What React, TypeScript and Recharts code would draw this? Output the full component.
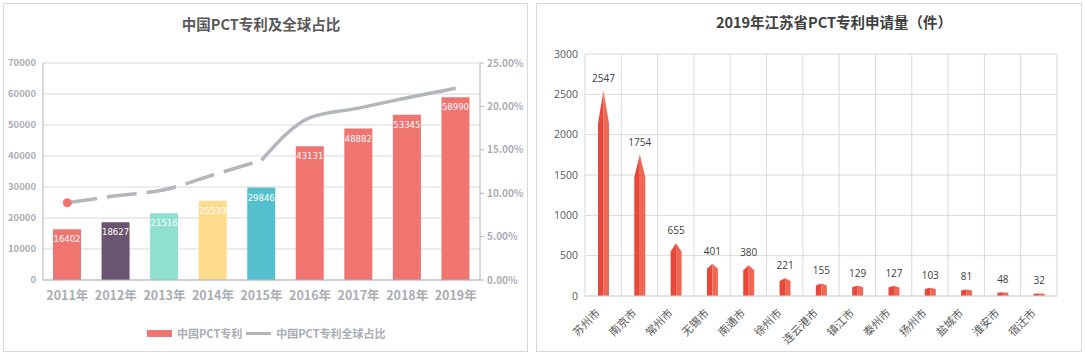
import React from 'react';
import {
  ComposedChart, BarChart, Bar, Line, XAxis, YAxis, CartesianGrid, Cell, LabelList,
} from 'recharts';

// ---- Left chart data ----
const years = ['2011年', '2012年', '2013年', '2014年', '2015年', '2016年', '2017年', '2018年', '2019年'];
const patents = [16402, 18627, 21516, 25539, 29846, 43131, 48882, 53345, 58990];
const shares = [8.9, 9.7, 10.4, 12.1, 13.8, 18.7, 19.8, 21.0, 22.1];
const barColors = ['#f07470', '#6b5470', '#8fe0cf', '#fddc8e', '#56bfcd', '#f07470', '#f07470', '#f07470', '#f07470'];
const patentTicks = [0, 10000, 20000, 30000, 40000, 50000, 60000, 70000];
const shareTicks = [0, 5, 10, 15, 20, 25];
const dashedUntil = 4; // 2015

// ---- Right chart data ----
const cities = ['苏州市', '南京市', '常州市', '无锡市', '南通市', '徐州市', '连云港市', '镇江市', '泰州市', '扬州市', '盐城市', '淮安市', '宿迁市'];
const cityValues = [2547, 1754, 655, 401, 380, 221, 155, 129, 127, 103, 81, 48, 32];
const cityTicks = [0, 500, 1000, 1500, 2000, 2500, 3000];

const leftData = years.map((y, i) => ({
  year: y,
  patents: patents[i],
  dashed: i <= dashedUntil ? shares[i] : null,
  solid: i >= dashedUntil ? shares[i] : null,
}));

const rightData = cities.map((c, i) => ({ city: c, value: cityValues[i] }));

const CJK = '"Noto Sans CJK SC", "Noto Sans", sans-serif';
const GRAY = '#a9adb5';
const LINE_GRAY = '#b2b6bd';

const StartDot = (props: any) => {
  const { cx, cy, index } = props;
  if (index !== 0 || cx == null) return <g key={`d${index}`} />;
  return <circle key={`d${index}`} cx={cx} cy={cy} r={4.5} fill="#f07470" stroke="none" />;
};

const ArrowBar = (props: any) => {
  const { x, y, width, height } = props;
  if (height == null || height <= 0) return <g />;
  const t = height * 0.16;
  const mid = x + width / 2;
  const bottom = y + height;
  return (
    <g>
      <polygon points={`${x},${bottom} ${x},${y + t} ${mid},${y} ${mid},${bottom}`} fill="#e8483a" />
      <polygon points={`${mid},${bottom} ${mid},${y} ${x + width},${y + t} ${x + width},${bottom}`} fill="#f06853" />
    </g>
  );
};

const CityTick = (props: any) => {
  const { x, y, payload } = props;
  return (
    <g transform={`translate(${x - 5},${y + 15})`}>
      <text
        x={0}
        y={0}
        dy="0.35em"
        textAnchor="end"
        transform="rotate(-45)"
        fill="#595959"
        fontSize={11}
        fontFamily={CJK}
      >
        {payload.value}
      </text>
    </g>
  );
};

export default function App() {
  return (
    <div style={{ position: 'absolute', left: 0, top: 0, width: 1085, height: 355, background: '#fff', fontFamily: CJK }}>
      {/* panel borders */}
      <div style={{ position: 'absolute', left: 3, top: 3, width: 523, height: 347, border: '1px solid #d9d9d9' }} />
      <div style={{ position: 'absolute', left: 536, top: 3, width: 544, height: 347, border: '1px solid #d9d9d9' }} />

      {/* Left chart */}
      <div style={{ position: 'absolute', left: 0, top: 14, width: 522, textAlign: 'center', fontSize: 14.5, fontWeight: 'bold', color: '#595959', lineHeight: '20px' }}>
        中国PCT专利及全球占比
      </div>
      <div style={{ position: 'absolute', left: 0, top: 0 }}>
        <ComposedChart width={530} height={355} data={leftData} margin={{ top: 63, right: 0, left: 0, bottom: 45 }}>
          <CartesianGrid yAxisId="left" vertical={false} stroke="#d9d9d9" />
          <XAxis
            dataKey="year"
            height={30}
            axisLine={{ stroke: '#b0b4bc' }}
            tickLine={false}
            tickMargin={5}
            tick={{ fill: GRAY, fontSize: 12.5, fontWeight: 'bold', fontFamily: CJK }}
            interval={0}
          />
          <YAxis
            yAxisId="left"
            width={43}
            domain={[0, 70000]}
            ticks={patentTicks}
            interval={0}
            axisLine={{ stroke: '#b0b4bc' }}
            tickLine={false}
            tickSize={5}
            tickMargin={2}
            tick={{ fill: GRAY, fontSize: 9.5, fontWeight: 'bold', fontFamily: CJK }}
          />
          <YAxis
            yAxisId="right"
            orientation="right"
            width={50}
            domain={[0, 25]}
            ticks={shareTicks}
            interval={0}
            axisLine={{ stroke: '#b0b4bc' }}
            tickLine={{ stroke: '#b0b4bc' }}
            tickSize={4}
            tickMargin={3}
            tickFormatter={(v: number) => `${v.toFixed(2)}%`}
            tick={{ fill: GRAY, fontSize: 10, fontWeight: 'bold', fontFamily: CJK }}
          />
          <Bar yAxisId="left" dataKey="patents" barSize={28} isAnimationActive={false}>
            {leftData.map((d, i) => (
              <Cell key={d.year} fill={barColors[i]} />
            ))}
            <LabelList dataKey="patents" position="insideTop" offset={7} fill="#ffffff" fontSize={8.5} fontFamily="DejaVu Sans" />
          </Bar>
          <Line
            yAxisId="right"
            dataKey="dashed"
            type="monotone"
            stroke={LINE_GRAY}
            strokeWidth={3.5}
            strokeDasharray="30 10"
            dot={StartDot}
            activeDot={false}
            connectNulls={false}
            isAnimationActive={false}
          />
          <Line
            yAxisId="right"
            dataKey="solid"
            type="monotone"
            stroke={LINE_GRAY}
            strokeWidth={3.5}
            dot={false}
            activeDot={false}
            connectNulls={false}
            isAnimationActive={false}
          />
        </ComposedChart>
      </div>
      {/* Left legend */}
      <div style={{ position: 'absolute', left: 147, top: 324, height: 18, display: 'flex', alignItems: 'center', fontSize: 11, fontWeight: 'bold', color: GRAY, whiteSpace: 'nowrap' }}>
        <span style={{ display: 'inline-block', width: 25, height: 7, background: '#f07470', marginRight: 5 }} />
        <span>中国PCT专利</span>
        <span style={{ display: 'inline-block', width: 25, height: 3, background: LINE_GRAY, margin: '0 5px 0 4px' }} />
        <span>中国PCT专利全球占比</span>
      </div>

      {/* Right chart */}
      <div style={{ position: 'absolute', left: 580, top: 12, width: 508, textAlign: 'center', fontSize: 14.5, fontWeight: 'bold', color: '#404040', lineHeight: '20px' }}>
        2019年江苏省PCT专利申请量（件）
      </div>
      <div style={{ position: 'absolute', left: 536, top: 0 }}>
        <BarChart width={549} height={355} data={rightData} margin={{ top: 54, right: 28, left: 0, bottom: 9 }}>
          <CartesianGrid
            stroke="#d9d9d9"
            verticalCoordinatesGenerator={(p: any) => {
              const off = p.offset;
              const n = cities.length;
              const xs: number[] = [];
              for (let i = 0; i <= n; i++) xs.push(off.left + (off.width * i) / n);
              return xs;
            }}
          />
          <XAxis
            dataKey="city"
            height={50}
            interval={0}
            axisLine={{ stroke: '#d9d9d9' }}
            tickLine={false}
            tickSize={0}
            tickMargin={0}
            tick={<CityTick />}
          />
          <YAxis
            width={49}
            domain={[0, 3000]}
            ticks={cityTicks}
            interval={0}
            axisLine={false}
            tickLine={false}
            tickSize={6}
            tickMargin={1}
            tick={{ fill: '#595959', fontSize: 10.5, fontFamily: '"Open Sans", sans-serif' }}
          />
          <Bar dataKey="value" barSize={11} shape={<ArrowBar />} isAnimationActive={false}>
            <LabelList dataKey="value" position="top" offset={9} fill="#404040" fontSize={10} fontFamily='"Open Sans", sans-serif' />
          </Bar>
        </BarChart>
      </div>
    </div>
  );
}
